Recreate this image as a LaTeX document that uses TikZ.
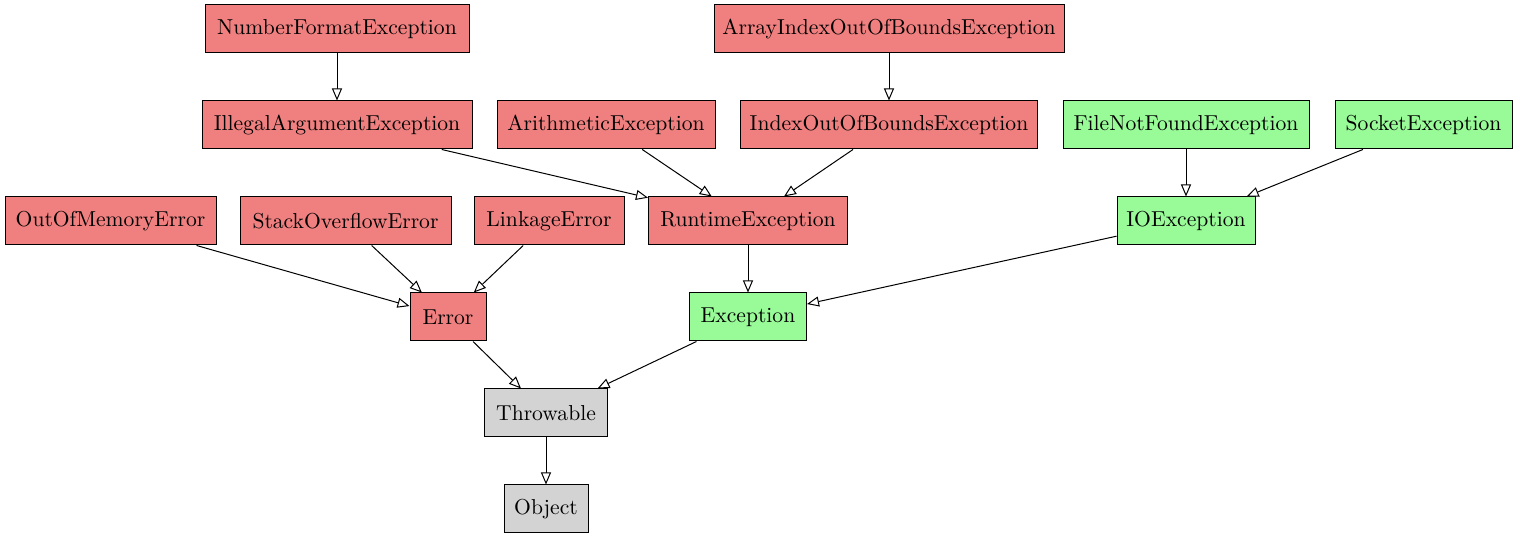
\documentclass[tikz,border=0pt]{standalone}
\usetikzlibrary{arrows.meta}
\definecolor{errred}{HTML}{F08080}
\definecolor{okgreen}{HTML}{98FB98}
\definecolor{neutral}{HTML}{D3D3D3}
\begin{document}
\begin{tikzpicture}[x=0.5pt,y=-0.5pt,
  box/.style={draw=black, line width=0.5pt, rectangle, minimum height=24pt, inner xsep=3pt, inner ysep=0pt, font=\fontsize{10.8}{12}\selectfont},
  red/.style={box, fill=errred},
  green/.style={box, fill=okgreen},
  gray/.style={box, fill=neutral},
  w/.style={minimum width=#1*0.5pt},
  inh/.style={draw=black, line width=0.5pt, -{Triangle[open, length=6pt, width=5pt, fill=white]}}
]
\useasboundingbox (0,0) rectangle (1521,539);
\node[red, w=264] (nfe) at (337,29) {NumberFormatException};
\node[red, w=350] (aioobe) at (889,29) {ArrayIndexOutOfBoundsException};
\node[red, w=270] (iae) at (337,125) {IllegalArgumentException};
\node[red, w=218] (ae) at (606,125) {ArithmeticException};
\node[red, w=297] (ioobe) at (889,125) {IndexOutOfBoundsException};
\node[green, w=246] (fnfe) at (1186,125) {FileNotFoundException};
\node[green, w=177] (se) at (1423.5,125) {SocketException};
\node[red, w=211] (oome) at (110.5,221) {OutOfMemoryError};
\node[red, w=211] (soe) at (345.5,221) {StackOverflowError};
\node[red, w=150] (le) at (549,221) {LinkageError};
\node[red, w=199] (re) at (748,221) {RuntimeException};
\node[green, w=117] (exc) at (748,317) {Exception};
\node[green, w=138] (ioe) at (1186,221) {IOException};
\node[red, w=76] (err) at (448,317) {Error};
\node[gray, w=123] (thr) at (546,413) {Throwable};
\node[gray, w=84] (obj) at (546,509) {Object};
\draw[inh] (nfe) -- (iae);
\draw[inh] (aioobe) -- (ioobe);
\draw[inh] (iae) -- (re);
\draw[inh] (ae) -- (re);
\draw[inh] (ioobe) -- (re);
\draw[inh] (fnfe) -- (ioe);
\draw[inh] (se) -- (ioe);
\draw[inh] (oome) -- (err);
\draw[inh] (soe) -- (err);
\draw[inh] (le) -- (err);
\draw[inh] (re) -- (exc);
\draw[inh] (ioe) -- (exc);
\draw[inh] (err) -- (thr);
\draw[inh] (exc) -- (thr);
\draw[inh] (thr) -- (obj);
\end{tikzpicture}
\end{document}
